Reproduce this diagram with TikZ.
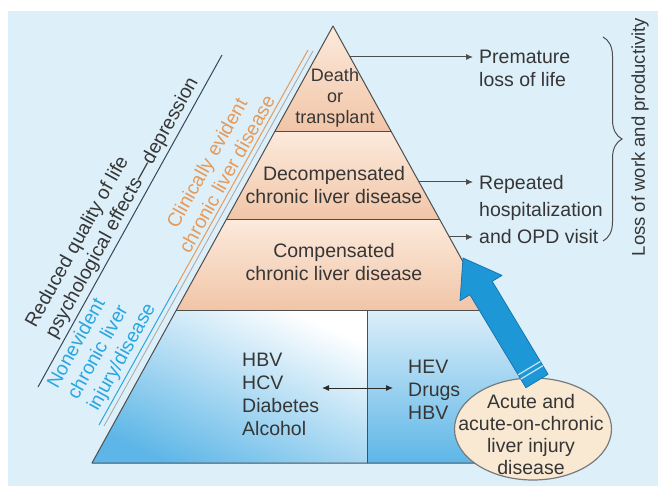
\documentclass[tikz,border=0pt]{standalone}
\usepackage{fontspec}
\setmainfont{Liberation Sans}
\usetikzlibrary{arrows.meta,shapes.geometric,decorations.pathreplacing}

\begin{document}
\begin{tikzpicture}[x=1pt,y=-1pt,
  txt/.style={font=\fontsize{19.5}{23}\selectfont, text=txtgray, inner sep=0pt},
  layer/.style={top color=peachtop, bottom color=peachbot},
  edge/.style={draw=edgegray, line width=1pt},
  pointer/.style={-{Latex[length=7pt,width=6pt]}, draw=edgegray, line width=1pt, shorten >=6pt},
  biarrow/.style={{Latex[length=7pt,width=6pt]}-{Latex[length=7pt,width=6pt]}, draw=txtgray!80!black, line width=1pt}]
  \definecolor{bgblue}{HTML}{DDEFF9}
  \definecolor{peachtop}{HTML}{FCEADC}
  \definecolor{peachbot}{HTML}{F1C5A7}
  \definecolor{baselight}{HTML}{DCEEF9}
  \definecolor{baseblue}{HTML}{5DB6E7}
  \definecolor{edgegray}{HTML}{4E4E4E}
  \definecolor{txtgray}{HTML}{363636}
  \definecolor{linedark}{HTML}{38465A}
  \definecolor{clinorange}{HTML}{E69A5A}
  \definecolor{noneblue}{HTML}{2AA6E0}
  \definecolor{ellfill}{HTML}{F9E9D3}
  \definecolor{ellgray}{HTML}{7A7A7A}
  \definecolor{arrowblue}{HTML}{1E97D7}
  \definecolor{arrowdark}{HTML}{1676B2}

  \useasboundingbox (0,0) rectangle (658,486);
  \fill[white] (0,0) rectangle (658,486);
  \fill[bgblue] (8,11) rectangle (658,486);

  % pyramid
  \coordinate (apex) at (333,26);
  \coordinate (l1) at (274.5,132); \coordinate (r1) at (391.5,132);
  \coordinate (l2) at (226,220);   \coordinate (r2) at (440,220);
  \coordinate (l3) at (176.4,310); \coordinate (r3) at (489.6,310);
  \coordinate (l4) at (92,463);    \coordinate (r4) at (574,463);
  \coordinate (m3) at (367,310);   \coordinate (m4) at (367,463);

  \path[layer] (apex) -- (r1) -- (l1) -- cycle;
  \path[layer] (l1) -- (r1) -- (r2) -- (l2) -- cycle;
  \path[layer] (l2) -- (r2) -- (r3) -- (l3) -- cycle;
  \path[top color=white, bottom color=baseblue, shading angle=-25] (l3) -- (m3) -- (m4) -- (l4) -- cycle;
  \path[top color=baselight, bottom color=baseblue] (m3) -- (r3) -- (r4) -- (m4) -- cycle;
  \draw[edge, line join=round] (apex) -- (r4) -- (l4) -- cycle;
  \draw[edge] (l1) -- (r1) (l2) -- (r2) (l3) -- (r3) (m3) -- (m4);

  \node[txt, align=center, font=\fontsize{18}{21}\selectfont] (death) at (335,98) {Death\\or\\transplant};
  \node[txt, align=center] (decomp) at (334,185) {Decompensated\\chronic liver disease};
  \node[txt, align=center] (comp) at (334,262) {Compensated\\chronic liver disease};
  \node[txt, align=left, anchor=north west] (risk) at (242,353) {HBV\\HCV\\Diabetes\\Alcohol};
  \node[txt, align=left, anchor=north west] (acute) at (408,360) {HEV\\Drugs\\HBV};

  \coordinate (dl) at (322,388); \coordinate (dr) at (393,388);
  \draw[biarrow] (dl) -- (dr);

  % left side labels
  \coordinate (q1) at (38,387); \coordinate (q2) at (222,55);
  \draw[linedark, line width=1pt] (q1) -- node[sloped, above=3pt, pos=0.52, txt, align=left] {Reduced quality of life\\psychological effects---depression} (q2);

  \draw[gray!70, line width=0.8pt] (104,426) -- (313,51);
  \coordinate (c0) at (99,425); \coordinate (c1) at (177,285); \coordinate (c2) at (308,50);
  \draw[clinorange, line width=1pt] (c1) -- node[sloped, above=3pt, pos=0.45, txt, text=clinorange, align=center] {Clinically evident\\chronic liver disease} (c2);
  \draw[noneblue, line width=1pt] (c0) -- node[sloped, above=3pt, pos=0.44, txt, text=noneblue, align=left] {Nonevident\\chronic liver\\injury/disease} (c1);

  % acute injury
  \node[ellipse, draw=ellgray, fill=ellfill, line width=1.2pt, minimum width=157pt, minimum height=102pt] (acinj) at (533,429) {};
  \node[txt, align=center, font=\fontsize{19.5}{22}\selectfont] (acinjtxt) at (531,435) {Acute and\\acute-on-chronic\\liver injury\\disease};
  \filldraw[fill=arrowblue, draw=arrowdark, line width=0.8pt, line join=round]
    (548.1,374.3) -- (492.2,281.3) -- (502.0,275.4) -- (463,258) -- (460.05,300.6) -- (469.9,294.7) -- (525.9,387.7) -- cycle;
  \draw[white!75!arrowblue, line width=1.2pt] (542.9,365.7) -- (520.7,379.1) (540.4,361.4) -- (518.2,374.8);

  % outcomes
  \node[txt, align=left, anchor=north west] (loss) at (479,50) {Premature\\loss of life};
  \node[txt, align=left, anchor=north west, font=\fontsize{19.5}{27}\selectfont] (hosp) at (479,175) {Repeated\\hospitalization\\and OPD visit};
  \coordinate (e1) at (350.1,57);  \draw[pointer] (e1) -- (e1 -| loss.west);
  \coordinate (e2) at (419,182);   \draw[pointer] (e2) -- (e2 -| hosp.west);
  \coordinate (e3) at (449.4,237); \draw[pointer] (e3) -- (e3 -| hosp.west);

  \draw[edgegray, line width=1pt, decorate, decoration={brace, amplitude=19pt}] (603,37) -- (603,241);
  \node[txt, rotate=90, font=\fontsize{18.5}{20}\selectfont] (work) at (640,137) {Loss of work and productivity};
\end{tikzpicture}
\end{document}
